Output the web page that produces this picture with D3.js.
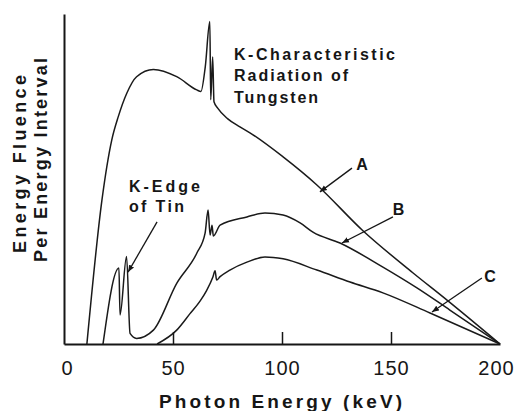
<!DOCTYPE html>
<html>
<head>
<meta charset="utf-8">
<script src="https://cdn.jsdelivr.net/npm/d3@7"></script>
<style>
  body { margin: 0; background: #fff; }
  text { font-family: "Liberation Sans", Arial, sans-serif; fill: #161616; }
</style>
</head>
<body>
<div id="chart"></div>
<script>
// Spectra: photon energy (keV) vs relative energy fluence (0-100)
const energyA  = [10.5, 17.4, 21.9, 24.9, 28.8, 33.3, 41, 51.7, 60.9, 62.8, 64.8, 66.9, 67.3, 68.2, 68.8, 70.5, 75, 80.7, 85.3, 100.5, 116, 137, 160, 175.7, 200];
const fluenceA = [0, 43.6, 61.8, 68.9, 76, 81, 83.2, 81, 77, 76.5, 84, 97.7, 74, 87, 73.4, 71.5, 68.3, 65.8, 64, 56.7, 48.2, 34.4, 21.6, 13.3, 0];

const energyB  = [17.9, 25.2, 25.7, 28.7, 30.3, 33.3, 41, 51.7, 60.9, 64.7, 66.1, 67, 67.9, 68.5, 71.6, 83.9, 92.2, 100.5, 108.3, 114.2, 126.6, 146.3, 161.9, 177, 200];
const fluenceB = [0, 23, 8.8, 26.5, 3.2, 1.7, 4.2, 18.4, 27.5, 33.5, 40.6, 33, 36, 32.7, 36, 38.5, 39.7, 39.1, 36.7, 33.9, 30.6, 23.3, 17, 10.3, 0];

const energyC  = [42.7, 51.7, 57.8, 62.4, 65.4, 68.3, 69.3, 70, 71.6, 76.1, 83.9, 92.2, 100.5, 116, 131.2, 146.3, 167.9, 200];
const fluenceC = [0, 4.2, 9.2, 13, 16.2, 20.3, 22.2, 19.4, 20.4, 22.4, 24.8, 26.4, 25.8, 22.4, 18.8, 15.5, 9.4, 0];

const xTicks = [0, 50, 100, 150, 200];
const curveNames = ["A", "B", "C"];

window.onload = () => {

  // 1. Layout
  const margin = { top: 14, right: 18, bottom: 67, left: 64 };
  const width = 518 - margin.left - margin.right;
  const height = 411 - margin.top - margin.bottom;

  const svg = d3.select("#chart")
    .append("svg")
    .attr("width", width + margin.left + margin.right)
    .attr("height", height + margin.top + margin.bottom)
    .append("g")
    .attr("transform", `translate(${margin.left},${margin.top})`);

  // 2. Scales
  const x = d3.scaleLinear().domain([0, 200]).range([0, width]);
  const y = d3.scaleLinear().domain([0, 100]).range([height, 0]);

  // fit a text to a target width by spreading its letters
  const spread = (sel, target) => {
    const n = sel.text().length;
    const len = sel.node().getComputedTextLength();
    sel.attr("letter-spacing", ((target - len) / (n - 1)).toFixed(2));
  };

  // 3. Axes
  const xAxis = svg.append("g")
    .attr("transform", `translate(0,${height})`)
    .call(d3.axisBottom(x).tickValues(xTicks).tickSizeInner(-12).tickSizeOuter(0).tickPadding(17));
  xAxis.select(".domain").attr("stroke", "#161616").attr("stroke-width", 2);
  xAxis.selectAll(".tick line")
    .attr("stroke", "#161616").attr("stroke-width", 1.5)
    .attr("display", d => (d === 0 || d === 200) ? "none" : null);
  xAxis.selectAll(".tick text")
    .attr("font-size", 20)
    .attr("font-family", "Liberation Sans, Arial, sans-serif")
    .attr("fill", "#161616")
    .attr("letter-spacing", 1)
    .attr("x", d => d === 0 ? 3 : d === 200 ? -4 : 0);

  const yAxis = svg.append("g")
    .call(d3.axisLeft(y).tickValues([]).tickSizeOuter(0));
  yAxis.select(".domain").attr("stroke", "#161616").attr("stroke-width", 2);

  const xTitle = svg.append("text")
    .attr("x", 159 - margin.left)
    .attr("y", height + 64)
    .attr("font-size", 19)
    .attr("font-weight", "bold")
    .text("Photon Energy (keV)");
  spread(xTitle, 243);

  // y title: two rotated lines, [text, width, baseline x, bottom y]
  const yTitle = [["Energy Fluence", 178, -38, 253], ["Per Energy Interval", 204, -17, 262]];
  yTitle.forEach(([t, len, dx, by]) => {
    const tt = svg.append("text")
      .attr("transform", `translate(${dx},${by - margin.top}) rotate(-90)`)
      .attr("font-size", 18)
      .attr("font-weight", "bold")
      .text(t);
    spread(tt, len);
  });

  // 4. Curves
  const line = d3.line()
    .x(d => x(d[0]))
    .y(d => y(d[1]))
    .curve(d3.curveMonotoneX);

  const series = [
    d3.zip(energyA, fluenceA),
    d3.zip(energyB, fluenceB),
    d3.zip(energyC, fluenceC)
  ];

  svg.selectAll("path.spectrum")
    .data(series)
    .enter()
    .append("path")
    .attr("class", "spectrum")
    .attr("d", line)
    .attr("fill", "none")
    .attr("stroke", "#1a1a1a")
    .attr("stroke-width", 1.5)
    .attr("stroke-linejoin", "round");

  // 5. Pointers and labels
  svg.append("defs").append("marker")
    .attr("id", "head")
    .attr("viewBox", "0 0 10 10")
    .attr("refX", 10).attr("refY", 5)
    .attr("markerWidth", 7).attr("markerHeight", 7)
    .attr("markerUnits", "userSpaceOnUse")
    .attr("orient", "auto")
    .append("path")
    .attr("d", "M0,1 L10,5 L0,9 Z")
    .attr("fill", "#161616");

  const pointers = [
    { from: [42.7, 37], to: [29.4, 21.8] },
    { from: [132.1, 53.3], to: [117.4, 46.1] },
    { from: [150.9, 38.5], to: [127.5, 30.6] },
    { from: [191.7, 20], to: [168.8, 9.7] }
  ];
  pointers.forEach(p => {
    svg.append("line")
      .attr("x1", x(p.from[0])).attr("y1", y(p.from[1]))
      .attr("x2", x(p.to[0])).attr("y2", y(p.to[1]))
      .attr("stroke", "#161616")
      .attr("stroke-width", 1.3)
      .attr("marker-end", "url(#head)");
  });

  const curveLabelAt = [[136.7, 52.7], [153.4, 39.1], [195.4, 18.8]];
  curveNames.forEach((n, i) => {
    svg.append("text")
      .attr("x", x(curveLabelAt[i][0]))
      .attr("y", y(curveLabelAt[i][1]))
      .attr("text-anchor", "middle")
      .attr("font-size", 16)
      .attr("font-weight", "bold")
      .text(n);
  });

  const notes = [
    { lines: ["K-Characteristic", "Radiation of", "Tungsten"], widths: [161, 114, 84], at: [78, 86.1], step: 21.5 },
    { lines: ["K-Edge", "of Tin"], widths: [71, 55], at: [29.8, 46.1], step: 20 }
  ];
  notes.forEach(n => {
    n.lines.forEach((t, i) => {
      const tt = svg.append("text")
        .attr("x", x(n.at[0]))
        .attr("y", y(n.at[1]) + i * n.step)
        .attr("font-size", 16)
        .attr("font-weight", "bold")
        .text(t);
      spread(tt, n.widths[i]);
    });
  });
};
</script>
</body>
</html>
